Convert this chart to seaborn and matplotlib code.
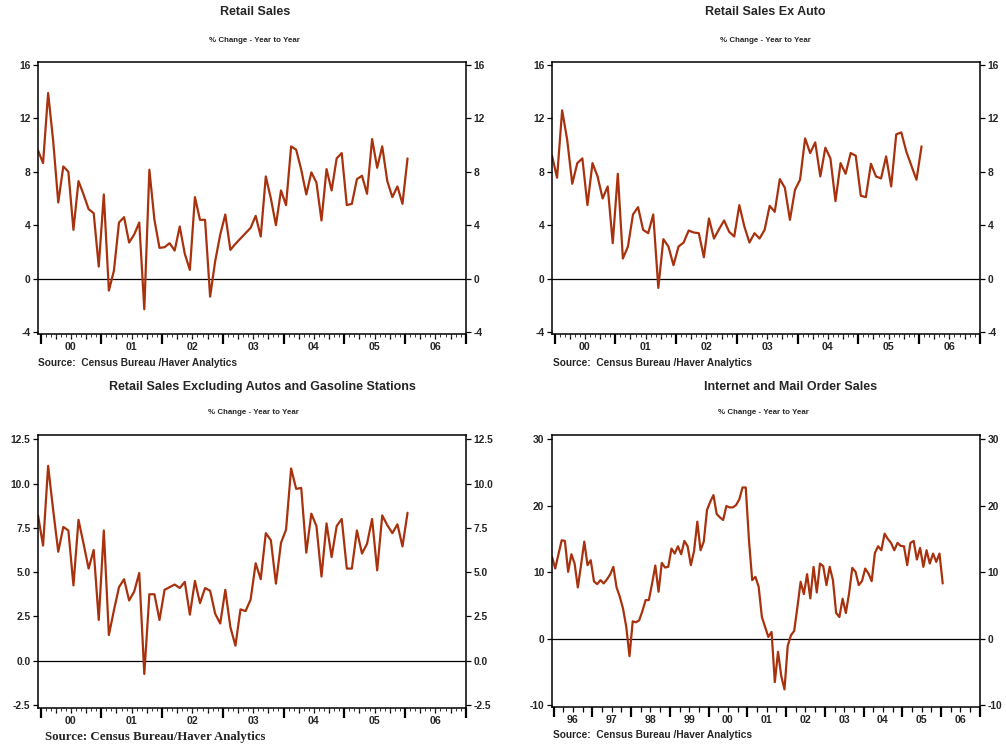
import numpy as np
import pandas as pd
import matplotlib
matplotlib.use("Agg")
import matplotlib.pyplot as plt
import seaborn as sns

# ---------------- data ----------------
retail_start = "1999-12"
retail_sales = [9.6, 8.65, 13.9, 10.3, 5.7, 8.4, 8.0, 3.65, 7.3, 6.3, 5.2, 4.9, 0.9, 6.3,
                -0.9, 0.6, 4.2, 4.6, 2.7, 3.3, 4.2, -2.3, 8.15, 4.4, 2.3, 2.35, 2.65, 2.1,
                3.9, 1.85, 0.65, 6.1, 4.4, 4.4, -1.35, 1.3, 3.3, 4.8, 2.15, 2.6, 3.0, 3.4,
                3.8, 4.7, 3.15, 7.65, 6.0, 4.0, 6.6, 5.5, 9.9, 9.65, 8.15, 6.3, 7.95, 7.2,
                4.35, 8.2, 6.6, 9.0, 9.4, 5.5, 5.6, 7.45, 7.7, 6.35, 10.45, 8.3, 9.9, 7.3,
                6.1, 6.9, 5.6, 9.0]

ex_auto_start = "1999-12"
retail_ex_auto = [9.2, 7.55, 12.6, 10.4, 7.1, 8.65, 9.0, 5.5, 8.65, 7.65, 6.0, 6.9, 2.65, 7.85,
                  1.5, 2.4, 4.8, 5.35, 3.65, 3.4, 4.8, -0.7, 2.95, 2.4, 1.0, 2.4, 2.7, 3.6,
                  3.45, 3.4, 1.6, 4.5, 3.0, 3.7, 4.35, 3.5, 3.15, 5.5, 3.9, 2.7, 3.4, 3.0,
                  3.65, 5.45, 5.0, 7.45, 6.8, 4.4, 6.65, 7.4, 10.5, 9.4, 10.2, 7.65, 9.8, 9.0,
                  5.8, 8.65, 7.85, 9.4, 9.2, 6.2, 6.1, 8.6, 7.65, 7.5, 9.15, 6.9, 10.8, 10.95,
                  9.5, 8.45, 7.4, 9.9]

ex_gas_start = "1999-12"
retail_ex_auto_gas = [8.2, 6.5, 11.0, 8.5, 6.15, 7.55, 7.35, 4.25, 7.95, 6.6, 5.2, 6.25, 2.3, 7.35,
                      1.45, 2.85, 4.15, 4.6, 3.4, 3.9, 4.95, -0.75, 3.75, 3.75, 2.3, 4.0, 4.15,
                      4.3, 4.1, 4.45, 2.6, 4.5, 3.25, 4.1, 3.95, 2.65, 2.1, 4.0, 1.9, 0.85, 2.9,
                      2.8, 3.45, 5.5, 4.6, 7.2, 6.8, 4.35, 6.65, 7.4, 10.85, 9.7, 9.75, 6.1, 8.3,
                      7.6, 4.75, 7.75, 5.85, 7.6, 8.0, 5.2, 5.2, 7.35, 6.05, 6.6, 8.0, 5.1, 8.2,
                      7.65, 7.2, 7.7, 6.45, 8.35]

internet_start = "1995-12"
internet_mail = [12.3, 10.55, 12.7, 14.8, 14.7, 10.05, 12.7, 11.3, 7.7, 11.1, 14.6, 11.05, 11.8,
                 8.6, 8.2, 8.8, 8.3, 8.9, 9.65, 10.8, 7.7, 6.3, 4.5, 1.75, -2.65, 2.6, 2.45,
                 2.75, 4.15, 5.8, 5.8, 8.3, 11.0, 7.05, 11.4, 10.7, 10.8, 13.55, 12.8, 13.9,
                 12.7, 14.7, 13.9, 11.05, 13.2, 17.6, 13.3, 14.6, 19.35, 20.6, 21.6, 18.75,
                 18.25, 17.85, 19.95, 19.75, 19.75, 20.1, 20.95, 22.75, 22.75, 14.8, 8.8, 9.3,
                 7.8, 3.25, 1.75, 0.25, 1.0, -6.55, -2.0, -5.65, -7.65, -1.1, 0.5, 1.15, 4.75,
                 8.55, 6.7, 9.7, 6.05, 10.8, 6.95, 11.3, 10.9, 8.05, 10.8, 8.8, 3.85, 3.25, 6.0,
                 3.85, 6.8, 10.65, 10.05, 8.05, 8.65, 10.55, 9.8, 8.65, 12.9, 13.9, 13.3, 15.8,
                 15.0, 14.4, 13.3, 14.4, 13.95, 13.9, 11.05, 14.4, 14.7, 11.9, 13.65, 10.8,
                 13.3, 11.3, 12.8, 11.55, 12.8, 8.3]

titles = ["Retail Sales", "Retail Sales Ex Auto",
          "Retail Sales Excluding Autos and Gasoline Stations", "Internet and Mail Order Sales"]
subtitle = "% Change - Year to Year"
source_text = "Source:  Census Bureau /Haver Analytics"
source_text_serif = "Source: Census Bureau/Haver Analytics"

yticks_a = [-4, 0, 4, 8, 12, 16]
ytick_labels_a = ["-4", "0", "4", "8", "12", "16"]
yticks_c = [-2.5, 0.0, 2.5, 5.0, 7.5, 10.0, 12.5]
ytick_labels_c = ["-2.5", "0.0", "2.5", "5.0", "7.5", "10.0", "12.5"]
yticks_d = [-10, 0, 10, 20, 30]
ytick_labels_d = ["-10", "0", "10", "20", "30"]

# ---------------- style ----------------
sns.set_style("ticks")
plt.rcParams["font.family"] = ["Liberation Sans", "DejaVu Sans"]
plt.rcParams["font.weight"] = "bold"

LINE = "#A8320E"
W, H = 1006, 745
fig = plt.figure(figsize=(W / 100, H / 100), dpi=100)


def month_pos(start, n):
    p = pd.period_range(start, periods=n, freq="M")
    return np.asarray(p.year + (p.month - 0.5) / 12.0, dtype=float)


def make_axes(px_left, px_top, px_right, px_bottom):
    return fig.add_axes([px_left / W, 1 - px_bottom / H,
                         (px_right - px_left) / W, (px_bottom - px_top) / H])


def draw(ax, start, values, first_year, ylim, yticks, ylabels, monthly):
    x = month_pos(start, len(values))
    df = pd.DataFrame({"date": x, "value": values})
    sns.lineplot(data=df, x="date", y="value", ax=ax, color=LINE, linewidth=1.6,
                 estimator=None)
    ax.axhline(0, color="black", linewidth=0.9, zorder=1)
    ax.set_xlim(first_year - 0.5 / 12, 2007.004)
    ax.set_ylim(*ylim)
    ax.set_xlabel("")
    ax.set_ylabel("")
    for s in ax.spines.values():
        s.set_visible(True)
        s.set_linewidth(1.1)
        s.set_color("black")
    # year boundaries
    years = np.arange(first_year, 2008)
    ax.set_xticks(years)
    ax.set_xticklabels([])
    ax.tick_params(axis="x", which="major", length=7, width=1.6, direction="out",
                   color="black")
    if monthly:
        months = np.arange(first_year * 12, 2007 * 12 + 1) / 12.0
        ax.set_xticks(months, minor=True)
        ax.tick_params(axis="x", which="minor", length=2.0, width=0.7, direction="out",
                       color="#333333")
        sec = ax.secondary_xaxis("bottom")
        quarters = np.arange(first_year * 4, 2007 * 4 + 1) / 4.0
        quarters = quarters[(quarters % 1) != 0]
        sec.set_xticks(quarters)
        sec.set_xticklabels([])
        sec.tick_params(length=3.4, width=0.9, color="black")
        sec.spines["bottom"].set_visible(False)
    else:
        quarters = np.arange(first_year * 4, 2007 * 4 + 1) / 4.0
        ax.set_xticks(quarters, minor=True)
        ax.tick_params(axis="x", which="minor", length=3.5, width=0.9, direction="out",
                       color="black")
    # year labels centred in each year
    lab = ax.secondary_xaxis("bottom")
    mids = np.arange(first_year, 2007) + 0.5
    lab.set_xticks(mids)
    lab.set_xticklabels([f"{y % 100:02d}" for y in range(first_year, 2007)],
                        fontsize=7.6, fontweight="bold")
    lab.tick_params(length=0, pad=5.5)
    lab.spines["bottom"].set_visible(False)
    # y axis both sides
    ax.set_yticks(yticks)
    ax.set_yticklabels(ylabels)
    ax.tick_params(axis="y", which="major", left=True, right=True, labelleft=True,
                   labelright=True, length=3.5, width=0.9, direction="out",
                   labelsize=7.4, pad=2, color="black")
    for t in ax.get_yticklabels():
        t.set_fontweight("bold")


panels = [
    (38, 62, 466, 334),
    (552, 62, 980, 334),
    (38, 435, 466, 708),
    (552, 435, 980, 707),
]

ax1 = make_axes(*panels[0])
draw(ax1, retail_start, retail_sales, 2000, (-4.15, 16.22), yticks_a, ytick_labels_a, True)
ax2 = make_axes(*panels[1])
draw(ax2, ex_auto_start, retail_ex_auto, 2000, (-4.15, 16.22), yticks_a, ytick_labels_a, True)
ax3 = make_axes(*panels[2])
draw(ax3, ex_gas_start, retail_ex_auto_gas, 2000, (-2.67, 12.74), yticks_c, ytick_labels_c, True)
ax4 = make_axes(*panels[3])
draw(ax4, internet_start, internet_mail, 1996, (-10.3, 30.65), yticks_d, ytick_labels_d, False)

# titles
title_pos = [(255, 12, 254, 40), (765, 12, 765, 40), (262, 387, 253, 413), (791, 387, 763, 413)]
for t, (tx, ty, sx, sy) in zip(titles, title_pos):
    fig.text(tx / W, 1 - ty / H, t, ha="center", va="center", fontsize=9, fontweight="bold")
    fig.text(sx / W, 1 - sy / H, subtitle, ha="center", va="center", fontsize=5.7,
             fontweight="bold")

# sources
for sx, sy in [(38, 363), (553, 363), (553, 735)]:
    fig.text(sx / W, 1 - sy / H, source_text, ha="left", va="center", fontsize=7.3,
             fontweight="bold")
fig.text(45 / W, 1 - 737 / H, source_text_serif, ha="left", va="center", fontsize=9.3,
         fontweight="bold", family=["Liberation Serif", "DejaVu Serif"])

fig.savefig("out.png", dpi=100)
